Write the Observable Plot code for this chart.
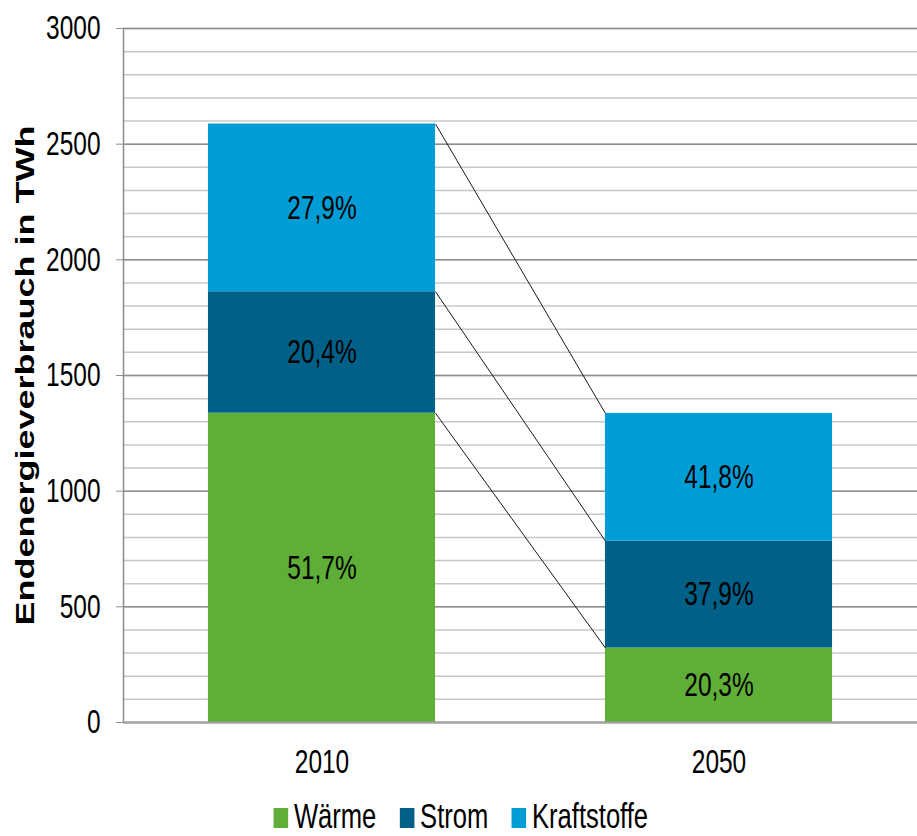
<!DOCTYPE html>
<html><head><meta charset="utf-8">
<script src="https://cdn.jsdelivr.net/npm/d3@7"></script>
<script src="https://cdn.jsdelivr.net/npm/@observablehq/plot@0.6"></script>
<style>
body{margin:0;background:#fff;font-family:'Liberation Sans',Arial,sans-serif;overflow:hidden}
#chart svg{display:block}
#legend{width:917px;height:40px;margin-top:6px;display:flex;justify-content:center;align-items:baseline;transform:scaleX(0.73);transform-origin:467px 50%;font-size:35px;line-height:40px;color:#000}
.sw{display:inline-block;width:20px;height:20px;margin-right:8px}
.item{margin:0 16px;white-space:nowrap}
</style></head><body>
<div id="chart"></div><div id="legend"></div>
<script>
const years = ["2010", "2050"];
const categories = ["Wärme", "Strom", "Kraftstoffe"];
const colors = ["#5fae37", "#006088", "#009cd6"];
const waerme = [1337, 322];
const strom = [525, 462];
const kraftstoffe = [725, 552];
const waermeLabels = ["51,7%", "20,3%"];
const stromLabels = ["20,4%", "37,9%"];
const kraftstoffeLabels = ["27,9%", "41,8%"];
const yMajorTicks = [0, 500, 1000, 1500, 2000, 2500, 3000];
const yMinorTicks = [0,100,200,300,400,500,600,700,800,900,1000,1100,1200,1300,1400,1500,1600,1700,1800,1900,2000,2100,2200,2300,2400,2500,2600,2700,2800,2900,3000];
const yTitle = "Endenergieverbrauch in TWh";

const barHalf = 0.286;
const series = [waerme, strom, kraftstoffe];
const seriesLabels = [waermeLabels, stromLabels, kraftstoffeLabels];
const rows = [];
years.forEach((y, i) => categories.forEach((c, k) => rows.push({year: y, xi: i + 0.5, cat: c, value: series[k][i], label: seriesLabels[k][i]})));
const cum = years.map((y, i) => Array.from(d3.cumsum(series.map(s => s[i]))));
const links = categories.map((c, k) => ({x1: 0.5 + barHalf, x2: 1.5 - barHalf, y1: cum[0][k], y2: cum[1][k]}));

const plot = Plot.plot({
  width: 917, height: 790,
  marginLeft: 123, marginRight: 0, marginTop: 28, marginBottom: 68,
  style: {fontFamily: "'Liberation Sans', Arial, sans-serif", background: "#fff"},
  x: {domain: [0, 2], label: null},
  y: {domain: [0, 3000], label: null},
  color: {domain: categories, range: colors},
  marks: [
    Plot.ruleY(yMinorTicks, {stroke: "#c8c8c8", strokeWidth: 1.5}),
    Plot.ruleY(yMajorTicks, {stroke: "#8c8c8c", strokeWidth: 1.5}),
    Plot.rectY(rows, {x1: d => d.xi - barHalf, x2: d => d.xi + barHalf, y: "value", fill: "cat"}),
    Plot.ruleY([0], {stroke: "#a0a0a0", strokeWidth: 2}),
    Plot.ruleX([0], {stroke: "#8c8c8c", strokeWidth: 1.5}),
    Plot.link(links, {x1: "x1", y1: "y1", x2: "x2", y2: "y2", stroke: "#1a1a1a", strokeWidth: 1}),
    Plot.text(rows, Plot.stackY({x: "xi", y: "value", z: "cat", text: "label", fontSize: 34, fill: "black"})),
    Plot.axisY({ticks: yMajorTicks, tickFormat: d => String(d), tickSize: 7, tickPadding: 16, fontSize: 34, stroke: "#8c8c8c", fill: "black", label: null}),
    Plot.axisX({ticks: [0.5, 1.5], tickFormat: d => years[Math.round(d - 0.5)], tickSize: 0, tickPadding: 26, fontSize: 34, fill: "black", label: null}),
    Plot.text([yTitle], {frameAnchor: "left", textAnchor: "middle", rotate: -90, dx: -98, fontSize: 36, fontWeight: "bold", fill: "black"})
  ]
});
plot.querySelectorAll("text").forEach(t => {
  const tr = t.getAttribute("transform");
  if (tr) {
    t.setAttribute("transform", tr + (tr.includes("rotate") ? " scale(1,0.72)" : " scale(0.72,1)"));
  } else {
    const x = +t.getAttribute("x") || 0, y = +t.getAttribute("y") || 0;
    t.setAttribute("transform", `translate(${x},${y}) scale(0.72,1) translate(${-x},${-y})`);
  }
});
document.getElementById("chart").appendChild(plot);

const legend = document.getElementById("legend");
categories.forEach((c, k) => {
  const item = document.createElement("span");
  item.className = "item";
  const sw = document.createElement("span");
  sw.className = "sw";
  sw.style.background = colors[k];
  item.appendChild(sw);
  item.appendChild(document.createTextNode(c));
  legend.appendChild(item);
});
</script>
</body></html>
